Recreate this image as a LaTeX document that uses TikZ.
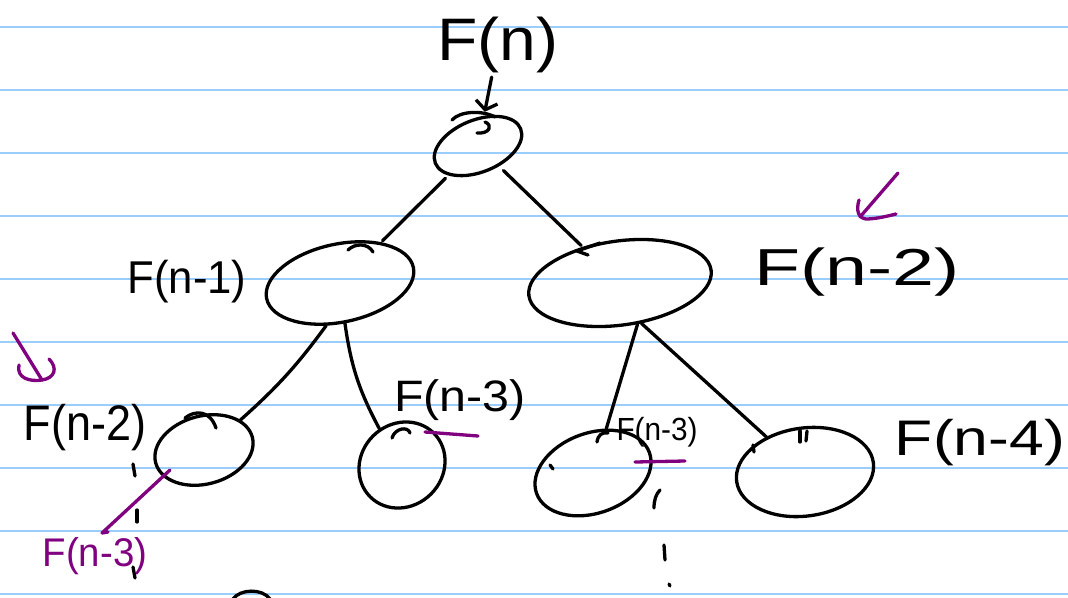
\documentclass[tikz,border=0pt]{standalone}
\usepackage{fontspec}
\setmainfont{Liberation Sans}
\usetikzlibrary{shapes.geometric,arrows.meta}
\definecolor{ruleblue}{RGB}{155,205,250}
\definecolor{violetink}{RGB}{128,0,128}
\tikzset{
  ink/.style={line width=3.3pt, black, line cap=round, line join=round},
  vink/.style={line width=3.3pt, violetink, line cap=round, line join=round},
  bubble/.style={ellipse, draw, ink, inner sep=0pt},
  lbl/.style={inner sep=0pt, black},
  rulestyle/.style={ruleblue, line width=2pt}
}
\begin{document}
\begin{tikzpicture}[x=1pt,y=-1pt]
\useasboundingbox (0,0) rectangle (1068,597);
\fill[white] (0,0) rectangle (1068,597);
\foreach \k in {0,...,9} \draw[rulestyle] (0,{27+63*\k}) -- (1068,{27+63*\k});

% bubbles
\node[bubble, minimum width=92pt, minimum height=52pt, rotate=22] (t) at (478,146) {};
\node[bubble, minimum width=150pt, minimum height=78pt, rotate=12] (a) at (340,283) {};
\node[bubble, minimum width=184pt, minimum height=84pt, rotate=8] (b) at (620,283) {};
\node[bubble, minimum width=100pt, minimum height=68pt, rotate=15] (A) at (204,450) {};
\node[bubble, minimum width=90pt, minimum height=82pt, rotate=45] (B) at (402,465) {};
\node[bubble, minimum width=120pt, minimum height=80pt, rotate=20] (C) at (593,473) {};
\node[bubble, minimum width=138pt, minimum height=88pt, rotate=8] (D) at (805,472) {};

% labels
\node[lbl, xscale=1.1, font=\fontsize{60}{64}\selectfont] (fn) at (498,45) {F(n)};
\node[lbl, xscale=0.95, font=\fontsize{46}{50}\selectfont] (la) at (187,282) {F(n-1)};
\node[lbl, xscale=1.45, font=\fontsize{52}{56}\selectfont] (lb) at (857,272) {F(n-2)};
\node[lbl, xscale=0.9, font=\fontsize{50}{54}\selectfont] (lA) at (85,428) {F(n-2)};
\node[lbl, xscale=1.1, font=\fontsize{44}{48}\selectfont] (lB) at (460,400) {F(n-3)};
\node[lbl, xscale=0.93, font=\fontsize{32}{36}\selectfont] (lC) at (657,432) {F(n-3)};
\node[lbl, xscale=1.25, font=\fontsize{50}{54}\selectfont] (lD) at (980,443) {F(n-4)};
\node[lbl, violetink, xscale=0.96, font=\fontsize{40}{44}\selectfont] (lp) at (95,556) {F(n-3)};

% connectors
\draw[ink, -{Straight Barb[length=8pt,width=22pt]}, shorten <=4pt, shorten >=4pt] (fn) -- (t);
\draw[ink, shorten <=4pt, shorten >=2pt] (t) -- (a);
\draw[ink, shorten <=6pt, shorten >=2pt] (t) -- (b);
\draw[ink] (a.-120) to[bend left=6] (A);
\draw[ink] (a.-95) to[bend right=10] (B);
\draw[ink] (b.-75) -- (C);
\draw[ink] (b.-70) -- (D);

% pen hooks and marks
\draw[ink] (452,120) .. controls (460,111) and (482,110) .. (495,117);
\draw[ink] (477,133) .. controls (490,134) and (493,125) .. (485,122);
\draw[ink] (348,250) .. controls (355,243) and (368,243) .. (373,252);
\draw[ink] (600,243) -- (577,251) -- (588,255);
\draw[ink] (185,418) .. controls (195,410) and (210,410) .. (216,428);
\draw[ink] (392,438) .. controls (395,428) and (408,426) .. (410,433);
\draw[ink] (597,442) .. controls (598,435) and (602,432) .. (608,433);
\draw[ink] (800,431) -- (800,442);
\draw[ink] (807,431) -- (806,441);
\draw[ink] (753,445) -- (754,452);
\draw[ink] (550,465) -- (553,469);
\draw[ink] (133,464) -- (135,476);
\draw[ink] (137,510) -- (137,522);
\draw[ink] (133,567) -- (135,578);
\draw[ink] (660,490) .. controls (656,494) and (654,500) .. (654,508);
\draw[ink] (664,545) -- (665,560);
\draw[ink] (669,584) -- (670,586);
\draw[ink] (233,599) .. controls (240,589) and (262,588) .. (270,599);

% violet marks
\coordinate (pa) at (170,470);
\coordinate (pb) at (102,533);
\draw[vink] (pa) -- (pb) -- (108,532);
\draw[vink] (425,432) -- (478,436);
\draw[vink] (635,462) -- (685,461);
% violet arrow right
\draw[vink] (898,173) -- (860,217);
\draw[vink] (859,200) .. controls (856,210) and (858,218) .. (866,219) .. controls (876,219) and (888,216) .. (896,214);
% violet arrow left
\draw[vink] (13,333) -- (42,380);
\draw[vink] (19,365) .. controls (16,378) and (30,382) .. (42,380) .. controls (55,378) and (58,368) .. (49,359);
\end{tikzpicture}
\end{document}
